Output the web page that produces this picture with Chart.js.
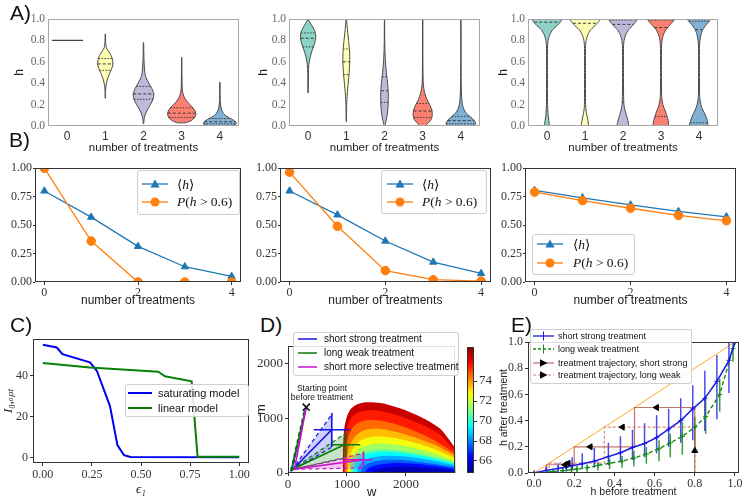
<!DOCTYPE html>
<html><head><meta charset="utf-8">
<script src="https://cdn.jsdelivr.net/npm/chart.js@4.4.1/dist/chart.umd.min.js"></script>
<style>
html,body{margin:0;padding:0;background:#fff}
body{position:relative;width:748px;height:501px;overflow:hidden;font-family:'Liberation Sans',Arial,sans-serif;color:#222}
.pl{position:absolute;font-size:21px;line-height:21px;color:#111}
.leg{position:absolute;background:rgba(255,255,255,0.85);border:1px solid #cfcfcf;border-radius:3px;box-sizing:border-box}
</style></head><body>
<script>
// ================= DATA =================
const treatments = [0, 1, 2, 3, 4];
const A_yTicks = [0, 0.2, 0.4, 0.6, 0.8, 1.0];
const A_yLabels = ['0.0', '0.2', '0.4', '0.6', '0.8', '1.0'];

// A1 violins: h = value levels, w = half-width (in category units), q = [q1, median, q3]
const A1_flat = {x: 0, y: 0.8, from: -0.4, to: 0.42};
const A1_v1_h = [0.26,0.33,0.38,0.43,0.48,0.52,0.56,0.58,0.62,0.66,0.70,0.73,0.78,0.86];
const A1_v1_w = [0.004,0.008,0.02,0.05,0.1,0.15,0.19,0.2,0.19,0.15,0.08,0.03,0.01,0.004];
const A1_v1_q = [0.52,0.58,0.63];
const A1_v2_h = [0.02,0.06,0.1,0.15,0.2,0.25,0.3,0.35,0.4,0.45,0.5,0.6,0.7,0.78];
const A1_v2_w = [0.004,0.015,0.04,0.1,0.18,0.25,0.27,0.22,0.14,0.07,0.035,0.015,0.008,0.004];
const A1_v2_q = [0.25,0.30,0.37];
const A1_v3_h = [0.03,0.05,0.08,0.11,0.14,0.18,0.22,0.26,0.3,0.35,0.45,0.55,0.64];
const A1_v3_w = [0.1,0.25,0.34,0.37,0.35,0.27,0.16,0.08,0.035,0.015,0.008,0.005,0.003];
const A1_v3_q = [0.08,0.12,0.17];
const A1_v4_h = [0.005,0.02,0.04,0.06,0.08,0.1,0.13,0.17,0.22,0.3,0.41];
const A1_v4_w = [0.32,0.43,0.41,0.33,0.23,0.14,0.07,0.03,0.012,0.006,0.003];
const A1_v4_q = [0.02,0.04,0.07];

// A2 violins
const A2_v0_h = [0.31,0.45,0.55,0.6,0.65,0.7,0.75,0.8,0.85,0.9,0.95,0.99];
const A2_v0_w = [0.004,0.008,0.015,0.03,0.06,0.1,0.15,0.19,0.2,0.16,0.08,0.01];
const A2_v0_q = [0.74,0.82,0.87];
const A2_v1_h = [0.04,0.2,0.3,0.4,0.5,0.6,0.7,0.8,0.9,1.0];
const A2_v1_w = [0.003,0.01,0.025,0.05,0.075,0.09,0.085,0.06,0.03,0.005];
const A2_v1_q = [0.48,0.60,0.72];
const A2_v2_h = [0.0,0.05,0.1,0.2,0.3,0.4,0.5,0.6,0.7,0.8,1.0];
const A2_v2_w = [0.01,0.04,0.07,0.095,0.1,0.08,0.05,0.025,0.012,0.006,0.003];
const A2_v2_q = [0.22,0.33,0.46];
const A2_v3_h = [0.0,0.03,0.06,0.1,0.15,0.2,0.25,0.3,0.35,0.4,0.5,0.7,1.0];
const A2_v3_w = [0.06,0.15,0.22,0.25,0.24,0.18,0.11,0.06,0.03,0.015,0.008,0.004,0.003];
const A2_v3_q = [0.08,0.14,0.21];
const A2_v4_h = [0.0,0.02,0.04,0.07,0.1,0.14,0.2,0.3,0.5,1.0];
const A2_v4_w = [0.3,0.39,0.37,0.3,0.2,0.1,0.04,0.015,0.006,0.003];
const A2_v4_q = [0.02,0.05,0.09];

// A3 violins (bimodal)
const A3_v0_h = [0.0,0.05,0.1,0.2,0.5,0.75,0.8,0.85,0.9,0.95,1.0];
const A3_v0_w = [0.06,0.05,0.03,0.015,0.012,0.015,0.03,0.07,0.15,0.3,0.39];
const A3_v0_q = [0.73,0.97,0.995];
const A3_v1_h = [0.0,0.05,0.1,0.15,0.2,0.5,0.75,0.8,0.85,0.9,0.95,1.0];
const A3_v1_w = [0.09,0.08,0.05,0.025,0.015,0.012,0.015,0.03,0.07,0.15,0.3,0.39];
const A3_v1_q = [0.47,0.96,0.995];
const A3_v2_h = [0.0,0.05,0.1,0.15,0.2,0.3,0.5,0.75,0.8,0.85,0.9,0.95,1.0];
const A3_v2_w = [0.15,0.13,0.09,0.05,0.025,0.015,0.012,0.015,0.03,0.07,0.15,0.28,0.37];
const A3_v2_q = [0.22,0.95,0.99];
const A3_v3_h = [0.0,0.05,0.1,0.15,0.2,0.25,0.3,0.5,0.75,0.8,0.85,0.9,0.95,1.0];
const A3_v3_w = [0.2,0.19,0.15,0.1,0.05,0.025,0.015,0.012,0.015,0.03,0.06,0.13,0.25,0.35];
const A3_v3_q = [0.09,0.92,0.99];
const A3_v4_h = [0.0,0.05,0.1,0.15,0.2,0.25,0.3,0.5,0.75,0.8,0.85,0.9,0.95,1.0];
const A3_v4_w = [0.24,0.22,0.17,0.1,0.05,0.025,0.015,0.012,0.013,0.025,0.05,0.1,0.2,0.3];
const A3_v4_q = [0.03,0.90,0.98];

// B) mean h and P(h>0.6) versus number of treatments
const B_xTicks = [0, 2, 4];
const B_yTicks = [0, 0.25, 0.5, 0.75, 1.0];
const B_yLabels = ['0.00', '0.25', '0.50', '0.75', '1.00'];
const B1_mean = [0.80, 0.57, 0.313, 0.134, 0.05];
const B1_p    = [1.0, 0.36, 0.0, 0.0, 0.0];
const B2_mean = [0.80, 0.59, 0.36, 0.175, 0.075];
const B2_p    = [0.965, 0.49, 0.10, 0.02, 0.008];
const B3_mean = [0.805, 0.74, 0.678, 0.62, 0.573];
const B3_p    = [0.79, 0.715, 0.648, 0.585, 0.538];

// C) I_0,opt versus epsilon_1
const C_satEps = [0, 0.071, 0.10, 0.24, 0.275, 0.342, 0.38, 0.413, 0.447, 1.0];
const C_satI   = [55.1, 53.8, 50.5, 46.5, 42.4, 25.1, 6.0, 1.1, 0.2, 0.0];
const C_linEps = [0, 0.24, 0.588, 0.622, 0.758, 0.788, 1.0];
const C_linI   = [46.2, 44.0, 41.9, 39.7, 37.2, 0.3, 0.3];
const C_xTicks = [0, 0.25, 0.5, 0.75, 1.0];
const C_xLabels = ['0.00', '0.25', '0.50', '0.75', '1.00'];
const C_yTicks = [0, 20, 40];

// D) fitness landscape contour levels (outer to inner) in (w, m) space
const D_levels = [77, 76, 75, 74, 73, 72, 71, 70, 69, 68, 67, 66];
const D_contourW = [
  [927,930,940,960,1000,1060,1150,1280,1420,1600,1800,2000,2200,2400,2600,2840],
  [945,948,960,985,1030,1100,1200,1320,1450,1600,1800,2000,2200,2400,2600,2840],
  [965,970,990,1020,1080,1160,1270,1400,1550,1750,2000,2250,2500,2840],
  [990,995,1020,1070,1150,1250,1380,1530,1700,1950,2200,2500,2840],
  [1015,1025,1060,1120,1210,1330,1480,1650,1900,2150,2450,2840],
  [1045,1060,1100,1170,1280,1420,1600,1850,2100,2400,2840],
  [1080,1095,1150,1240,1370,1550,1800,2050,2350,2840],
  [1120,1140,1200,1310,1460,1650,1900,2150,2450,2840],
  [1170,1195,1270,1390,1550,1750,2000,2300,2600,2840],
  [1230,1260,1350,1480,1650,1850,2100,2400,2840],
  [1300,1340,1440,1580,1750,1950,2200,2500,2840],
  [1400,1450,1560,1700,1900,2100,2350,2600,2840]
];
const D_contourM = [
  [0,300,600,850,1030,1160,1240,1285,1290,1270,1210,1140,1050,940,790,455],
  [0,280,540,760,920,1040,1110,1140,1145,1125,1070,1000,915,815,680,400],
  [0,250,470,650,800,900,950,965,955,910,830,720,590,355],
  [0,220,400,560,680,760,800,805,780,720,630,510,310],
  [0,200,350,480,580,640,665,660,620,550,450,265],
  [0,180,310,410,480,525,540,515,465,385,225],
  [0,160,270,350,405,430,420,385,325,185],
  [0,150,260,330,370,385,370,330,270,165],
  [0,125,215,275,305,315,300,255,195,135],
  [0,100,170,215,240,242,220,180,105],
  [0,75,125,160,180,182,165,130,72],
  [0,45,80,100,112,110,95,70,40]
];
const D_startW = [309], D_startM = [1200];
const D_blueMeanW = [309, 60, 742],  D_blueMeanM = [1200, 45, 788];
const D_blueUpW = [60, 758],         D_blueUpM = [45, 1090];
const D_blueLoW = [60, 758],         D_blueLoM = [45, 480];
const D_blueSteepW = [75, 285],      D_blueSteepM = [45, 1120];
const D_greenMeanW = [309, 56, 955], D_greenMeanM = [1200, 60, 515];
const D_greenUpW = [56, 983],        D_greenUpM = [60, 727];
const D_greenLoW = [56, 983],        D_greenLoM = [60, 273];
const D_greenSteepW = [45, 270],     D_greenSteepM = [50, 1120];
const D_magMeanW = [309, 110, 1281], D_magMeanM = [1200, 70, 242];
const D_magUpW = [110, 1292],        D_magUpM = [70, 364];
const D_magLoW = [110, 1292],        D_magLoM = [70, 91];
const D_crossW = [742, 983, 1281],   D_crossM = [788, 515, 242];
const D_crossWlo = [438, 730, 944],  D_crossWhi = [1050, 1225, 1433];
const D_crossMlo = [473, 290, 121],  D_crossMhi = [1090, 727, 394];
const D_ticks = [0, 1000, 2000];
const CB_min = 64.8, CB_max = 77.4;
const CB_ticks = [66, 68, 70, 72, 74];

// E) h after treatment vs h before treatment
const E_ticks = [0, 0.2, 0.4, 0.6, 0.8, 1.0];
const E_labels = ['0.0', '0.2', '0.4', '0.6', '0.8', '1.0'];
const E_blueX    = [0,0.06,0.12,0.16,0.19,0.24,0.30,0.37,0.43,0.49,0.55,0.61,0.67,0.73,0.79,0.85,0.91,0.97,1.0];
const E_blueMean = [0,0.02,0.035,0.045,0.056,0.07,0.09,0.125,0.155,0.195,0.225,0.27,0.335,0.40,0.49,0.57,0.70,0.86,1.0];
const E_blueLo   = [null,0.0,0.005,0.01,0.02,0.03,0.04,0.06,0.08,0.10,0.12,0.15,0.20,0.23,0.25,0.32,0.41,0.61,null];
const E_blueHi   = [null,0.05,0.075,0.09,0.12,0.15,0.19,0.23,0.28,0.33,0.38,0.44,0.49,0.57,0.67,0.78,0.90,1.0,null];
const E_greenX    = [0,0.095,0.144,0.186,0.214,0.264,0.318,0.376,0.438,0.497,0.559,0.622,0.678,0.738,0.80,0.854,0.924,0.99,1.0];
const E_greenMean = [0,0.012,0.018,0.025,0.03,0.04,0.058,0.075,0.09,0.115,0.145,0.185,0.23,0.28,0.35,0.43,0.60,0.95,1.0];
const E_greenLo   = [null,0.0,0.0,0.0,0.005,0.01,0.02,0.03,0.04,0.05,0.07,0.09,0.12,0.14,0.19,0.30,0.47,0.85,null];
const E_greenHi   = [null,0.03,0.04,0.05,0.055,0.065,0.085,0.11,0.13,0.17,0.20,0.25,0.30,0.39,0.43,0.58,0.72,1.0,null];
const E_diagX = [0, 1], E_diagY = [0, 1];
const E_strongX = [0.8,0.8,0.5,0.5,0.2,0.2,0.063,0.063];
const E_strongY = [0,0.5,0.5,0.2,0.2,0.063,0.063,0.015];
const E_weakX = [0.8,0.8,0.35,0.35,0.075,0.075];
const E_weakY = [0,0.35,0.35,0.075,0.075,0.012];
const E_arrStrongX = [0.8,0.61,0.28,0.155], E_arrStrongY = [0.17,0.5,0.2,0.063], E_arrStrongRot = [0,-90,-90,-90];
const E_arrWeakX = [0.44,0.17], E_arrWeakY = [0.35,0.075], E_arrWeakRot = [-90,-90];

// ================= STYLE / HELPERS =================
const SERIF = "'Liberation Serif','Times New Roman',serif";
const SANS = "'Liberation Sans',Arial,sans-serif";
const SET3 = ['#8dd3c7', '#ffffb3', '#bebada', '#fb8072', '#80b1d3'];
Chart.defaults.font.family = SANS;
Chart.defaults.animation = false;
Chart.defaults.plugins.legend.display = false;
Chart.defaults.plugins.tooltip.enabled = false;
Chart.defaults.elements.point.radius = 0;
Chart.defaults.elements.line.borderWidth = 1.5;
Chart.defaults.elements.line.tension = 0;

Chart.register({
  id: 'frame',
  afterDatasetsDraw(chart, args, opts) {
    if (!opts || !opts.color) return;
    const {ctx, chartArea: a} = chart;
    ctx.save();
    ctx.strokeStyle = opts.color; ctx.lineWidth = 1;
    ctx.strokeRect(Math.round(a.left) + 0.5, Math.round(a.top) + 0.5,
                   Math.round(a.right - a.left) - 1, Math.round(a.bottom - a.top) - 1);
    ctx.restore();
  }
});

const pts = (xs, ys) => xs.map((x, i) => ({x, y: ys[i]}));
function interp(hs, ws, y) {
  if (y <= hs[0]) return ws[0];
  for (let i = 1; i < hs.length; i++) if (y <= hs[i]) {
    const t = (y - hs[i-1]) / (hs[i] - hs[i-1]); return ws[i-1] + t * (ws[i] - ws[i-1]);
  }
  return ws[ws.length - 1];
}
function jet(t) {
  const cl = v => Math.max(0, Math.min(1, v));
  const r = cl(1.5 - Math.abs(4*t - 3)), g = cl(1.5 - Math.abs(4*t - 2)), b = cl(1.5 - Math.abs(4*t - 1));
  return `rgb(${Math.round(r*255)},${Math.round(g*255)},${Math.round(b*255)})`;
}
function lin(min, max, ticks, labels, o) {
  o = o || {};
  const sc = {
    type: 'linear', min, max,
    afterBuildTicks: s => { s.ticks = ticks.map(v => ({value: v})); },
    ticks: {autoSkip: false, maxRotation: 0, minRotation: 0, padding: o.pad ?? 2, color: o.color || '#333',
            font: o.font || {family: SERIF, size: 12}, callback: (v, i) => labels[i]},
    grid: {display: !!o.tl, drawOnChartArea: false, drawTicks: !!o.tl, tickLength: o.tl || 0, color: '#333', lineWidth: 1},
    border: {display: false},
    title: {display: false}
  };
  if (o.pos) sc.position = o.pos;
  if (o.title) sc.title = {display: true, text: o.title, color: o.titleColor || '#222', font: o.titleFont, at: o.titleAt, padding: 0};
  return sc;
}
function mk(rect, plot, cfg, yRight) {
  const [cx, cy, cw, ch] = rect, [L, T, R, B] = plot;
  const cv = document.createElement('canvas');
  cv.width = cw; cv.height = ch;
  cv.style.cssText = `position:absolute;left:${cx}px;top:${cy}px;width:${cw}px;height:${ch}px;`;
  document.body.appendChild(cv);
  const o = cfg.options;
  o.responsive = false; o.animation = false; o.devicePixelRatio = 1;
  const sx = o.scales.x, sy = o.scales.y;
  if (!yRight) {
    o.layout = {padding: {left: 0, top: T - cy, right: cx + cw - R, bottom: 0}};
    sx.afterFit = s => { s.height = cy + ch - B; };
    sy.afterFit = s => { s.width = L - cx; };
  } else {
    o.layout = {padding: {left: L - cx, top: T - cy, right: 0, bottom: cy + ch - B}};
    sy.afterFit = s => { s.width = cx + cw - R; };
  }
  if (sx.title && sx.title.display) {
    const lh = sx.title.font.size * 1.2;
    sx.title.padding = {top: 0, bottom: Math.max(0, cy + ch - sx.title.at - lh / 2)};
  }
  if (sy.title && sy.title.display) {
    const lh = sy.title.font.size * 1.2;
    sy.title.padding = {top: Math.max(0, sy.title.at - cx - lh / 2), bottom: 0};
  }
  return new Chart(cv, cfg);
}
function segs(list) { // list of [x0,y0,x1,y1] -> points with gaps
  const out = [];
  list.forEach(s => { out.push({x: s[0], y: s[1]}, {x: s[2], y: s[3]}, {x: s[2], y: null}); });
  return out;
}

// ================= A) violins =================
function violinSets(list) {
  const ds = [], q = [], m = [];
  list.forEach(v => {
    const p = [];
    v.h.forEach((h, i) => p.push({x: v.x + v.w[i], y: h}));
    for (let i = v.h.length - 1; i >= 0; i--) p.push({x: v.x - v.w[i], y: v.h[i]});
    p.push({x: p[0].x, y: p[0].y});
    ds.push({data: p, fill: 'shape', backgroundColor: SET3[v.x], borderColor: '#4a4a4a', borderWidth: 1, tension: 0.25, order: 5});
    const hw = y => interp(v.h, v.w, y);
    [v.q[0], v.q[2]].forEach(y => q.push([v.x - hw(y), y, v.x + hw(y), y]));
    m.push([v.x - hw(v.q[1]), v.q[1], v.x + hw(v.q[1]), v.q[1]]);
  });
  ds.push({data: segs(q), borderColor: '#3a3a3a', borderWidth: 1, borderDash: [1.5, 1.5], order: 1});
  ds.push({data: segs(m), borderColor: '#3a3a3a', borderWidth: 1, borderDash: [3, 2], order: 1});
  return ds;
}
function aChart(rect, plot, datasets, yTitleX) {
  return mk(rect, plot, {type: 'line', data: {datasets}, options: {
    plugins: {frame: {color: '#a8a8a8'}},
    scales: {
      x: lin(-0.5, 4.5, treatments, treatments.map(String), {font: {family: SANS, size: 12}, color: '#333', pad: 3,
           title: 'number of treatments', titleFont: {family: SANS, size: 11.5}, titleAt: 147.5}),
      y: lin(0, 1, A_yTicks, A_yLabels, {font: {family: SERIF, size: 11.5}, color: '#666', pad: 3,
           title: 'h', titleFont: {family: SANS, size: 12}, titleAt: yTitleX})
    }}});
}
const A1sets = violinSets([
  {x: 1, h: A1_v1_h, w: A1_v1_w, q: A1_v1_q}, {x: 2, h: A1_v2_h, w: A1_v2_w, q: A1_v2_q},
  {x: 3, h: A1_v3_h, w: A1_v3_w, q: A1_v3_q}, {x: 4, h: A1_v4_h, w: A1_v4_w, q: A1_v4_q}]);
A1sets.push({data: [{x: A1_flat.from, y: A1_flat.y}, {x: A1_flat.to, y: A1_flat.y}], borderColor: '#444', borderWidth: 1.2, order: 1});
aChart([8, 8, 240, 152], [48, 19, 239, 126], A1sets, 20);
aChart([250, 8, 240, 152], [289, 19, 480, 126], violinSets([
  {x: 0, h: A2_v0_h, w: A2_v0_w, q: A2_v0_q}, {x: 1, h: A2_v1_h, w: A2_v1_w, q: A2_v1_q},
  {x: 2, h: A2_v2_h, w: A2_v2_w, q: A2_v2_q}, {x: 3, h: A2_v3_h, w: A2_v3_w, q: A2_v3_q},
  {x: 4, h: A2_v4_h, w: A2_v4_w, q: A2_v4_q}]), 264);
aChart([496, 8, 252, 152], [528, 19, 718, 126], violinSets([
  {x: 0, h: A3_v0_h, w: A3_v0_w, q: A3_v0_q}, {x: 1, h: A3_v1_h, w: A3_v1_w, q: A3_v1_q},
  {x: 2, h: A3_v2_h, w: A3_v2_w, q: A3_v2_q}, {x: 3, h: A3_v3_h, w: A3_v3_w, q: A3_v3_q},
  {x: 4, h: A3_v4_h, w: A3_v4_w, q: A3_v4_q}]), 502);

// ================= B) =================
function bChart(rect, plot, mean, p) {
  return mk(rect, plot, {type: 'line', data: {datasets: [
    {data: pts(treatments, mean), borderColor: '#1f77b4', backgroundColor: '#1f77b4', borderWidth: 1.3,
     pointStyle: 'triangle', pointRadius: 4.2, pointBorderWidth: 1, order: 2},
    {data: pts(treatments, p), borderColor: '#ff7f0e', backgroundColor: '#ff7f0e', borderWidth: 1.3,
     pointStyle: 'circle', pointRadius: 4.3, pointBorderWidth: 1, order: 1}
  ]}, options: {
    plugins: {frame: {color: '#333'}},
    scales: {
      x: lin(-0.2, 4.2, B_xTicks, ['0', '2', '4'], {tl: 3, pad: 1, color: '#333',
           title: 'number of treatments', titleFont: {family: SANS, size: 12}, titleAt: 301}),
      y: lin(0, 1, B_yTicks, B_yLabels, {tl: 2, pad: 1, color: '#333'})
    }}});
}
bChart([0, 160, 248, 152], [35, 168, 241, 282], B1_mean, B1_p);
bChart([248, 160, 248, 152], [280, 168, 491, 282], B2_mean, B2_p);
bChart([496, 160, 252, 152], [525, 168, 736, 282], B3_mean, B3_p);

// ================= C) =================
mk([0, 330, 252, 171], [33, 339, 249, 463], {type: 'line', data: {datasets: [
  {data: pts(C_satEps, C_satI), borderColor: '#0000ee', borderWidth: 2, order: 2},
  {data: pts(C_linEps, C_linI), borderColor: '#0a800a', borderWidth: 2, order: 1}
]}, options: {
  plugins: {frame: {color: '#333'}},
  scales: {
    x: lin(-0.05, 1.05, C_xTicks, C_xLabels, {tl: 3, pad: 2, title: 'ϵ₁', titleFont: {family: SERIF, size: 13, style: 'italic'}, titleAt: 490}),
    y: lin(-2.76, 57.86, C_yTicks, ['0', '20', '40'], {tl: 3, pad: 2, title: 'I₀,ₒₚₜ', titleFont: {family: SERIF, size: 13, style: 'italic'}, titleAt: 9})
  }}});

// ================= D) =================
const Dsets = [];
D_levels.forEach((lev, i) => {
  Dsets.push({data: pts(D_contourW[i], D_contourM[i]), fill: 'origin', borderWidth: 0, borderColor: 'rgba(0,0,0,0)',
    backgroundColor: jet((lev - 0.5 - CB_min) / (CB_max - CB_min)), tension: 0.2, order: 1000 - i});
});
const poly = (w1, m1, w2, m2) => [{x: w1[0], y: m1[0]}, {x: w1[1], y: m1[1]}, {x: w2[1], y: m2[1]}, {x: w1[0], y: m1[0]}];
Dsets.push(
  {data: poly(D_blueUpW, D_blueUpM, D_blueLoW, D_blueLoM), fill: 'shape', backgroundColor: 'rgba(40,40,255,0.22)', borderWidth: 0, order: 50},
  {data: poly(D_greenUpW, D_greenUpM, D_greenLoW, D_greenLoM), fill: 'shape', backgroundColor: 'rgba(0,128,0,0.22)', borderWidth: 0, order: 50},
  {data: poly(D_magUpW, D_magUpM, D_magLoW, D_magLoM), fill: 'shape', backgroundColor: 'rgba(200,0,200,0.22)', borderWidth: 0, order: 50},
  {data: pts(D_blueUpW, D_blueUpM), borderColor: '#1515e0', borderWidth: 1.2, borderDash: [4, 3], order: 20},
  {data: pts(D_blueLoW, D_blueLoM), borderColor: '#1515e0', borderWidth: 1.2, borderDash: [4, 3], order: 20},
  {data: pts(D_blueSteepW, D_blueSteepM), borderColor: '#1515e0', borderWidth: 1.2, borderDash: [4, 3], order: 20},
  {data: pts(D_greenUpW, D_greenUpM), borderColor: '#0a7a0a', borderWidth: 1.2, borderDash: [4, 3], order: 20},
  {data: pts(D_greenLoW, D_greenLoM), borderColor: '#0a7a0a', borderWidth: 1.2, borderDash: [4, 3], order: 20},
  {data: pts(D_greenSteepW, D_greenSteepM), borderColor: '#0a7a0a', borderWidth: 1.2, borderDash: [4, 3], order: 20},
  {data: pts(D_magUpW, D_magUpM), borderColor: '#cc10cc', borderWidth: 1.2, borderDash: [4, 3], order: 20},
  {data: pts(D_magLoW, D_magLoM), borderColor: '#cc10cc', borderWidth: 1.2, borderDash: [4, 3], order: 20},
  {data: pts(D_blueMeanW, D_blueMeanM), borderColor: '#1515e0', borderWidth: 1.6, order: 10},
  {data: pts(D_greenMeanW, D_greenMeanM), borderColor: '#0a7a0a', borderWidth: 1.6, order: 9},
  {data: pts(D_magMeanW, D_magMeanM), borderColor: '#cc10cc', borderWidth: 1.6, order: 8}
);
const crossColors = ['#1515e0', '#0a7a0a', '#cc10cc'];
D_crossW.forEach((w, i) => {
  Dsets.push({data: segs([[D_crossWlo[i], D_crossM[i], D_crossWhi[i], D_crossM[i]], [w, D_crossMlo[i], w, D_crossMhi[i]]]),
    borderColor: crossColors[i], borderWidth: 1.6, order: 5});
});
Dsets.push({data: pts(D_startW, D_startM), showLine: false, pointStyle: 'crossRot', pointRadius: 5,
  pointBorderColor: '#111', pointBorderWidth: 1.6, order: 0});
mk([252, 336, 210, 165], [288, 346, 457, 473], {type: 'line', data: {datasets: Dsets}, options: {
  plugins: {frame: {color: '#333'}},
  scales: {
    x: lin(0, 2840, D_ticks, ['0', '1000', '2000'], {tl: 3, pad: 1, font: {family: SERIF, size: 13},
         title: 'w', titleFont: {family: SANS, size: 13}, titleAt: 492}),
    y: lin(0, 2315, D_ticks, ['0', '1000', '2000'], {tl: 3, pad: 2, font: {family: SERIF, size: 13},
         title: 'm', titleFont: {family: SANS, size: 13}, titleAt: 261})
  }}});

// colorbar
mk([462, 336, 40, 150], [467, 347, 474, 473], {type: 'bar', data: {labels: [''], datasets: [{
  data: [[CB_min, CB_max]], borderWidth: 0, barPercentage: 1, categoryPercentage: 1,
  backgroundColor: c => {
    const ch = c.chart; if (!ch.chartArea) return '#888';
    const ys = ch.scales.y;
    const g = ch.ctx.createLinearGradient(0, ys.getPixelForValue(CB_min), 0, ys.getPixelForValue(CB_max));
    for (let k = 0; k <= 16; k++) g.addColorStop(k / 16, jet(k / 16));
    return g;
  }}]}, options: {
  plugins: {frame: {color: '#333'}},
  scales: {
    x: {type: 'category', display: false},
    y: lin(CB_min, CB_max, CB_ticks, CB_ticks.map(String), {pos: 'right', tl: 3, pad: 2, font: {family: SERIF, size: 13}})
  }}}, true);

// ================= E) =================
const ebSegs = (xs, lo, hi) => segs(xs.map((x, i) => lo[i] == null ? null : [x, lo[i], x, hi[i]]).filter(s => s));
mk([496, 330, 252, 171], [528, 342, 739, 473], {type: 'line', data: {datasets: [
  {data: pts(E_diagX, E_diagY), borderColor: '#ffa726', borderWidth: 1, order: 30},
  {data: ebSegs(E_greenX, E_greenLo, E_greenHi), borderColor: 'rgba(20,140,20,0.85)', borderWidth: 1.5, order: 25},
  {data: ebSegs(E_blueX, E_blueLo, E_blueHi), borderColor: 'rgba(30,30,235,0.8)', borderWidth: 1.5, order: 24},
  {data: pts(E_strongX, E_strongY), borderColor: 'rgba(170,70,60,0.75)', borderWidth: 1.2, order: 20},
  {data: pts(E_weakX, E_weakY), borderColor: 'rgba(205,100,90,0.75)', borderWidth: 1.2, borderDash: [3, 2], order: 19},
  {data: pts(E_greenX, E_greenMean), borderColor: '#138a13', borderWidth: 1.4, borderDash: [4, 2.5],
   pointStyle: 'cross', pointRadius: 2.5, pointBorderColor: '#138a13', pointBorderWidth: 1, order: 12},
  {data: pts(E_blueX, E_blueMean), borderColor: '#1a1ae6', borderWidth: 1.5,
   pointStyle: 'cross', pointRadius: 2.5, pointBorderColor: '#1a1ae6', pointBorderWidth: 1, order: 11},
  {data: pts(E_arrStrongX, E_arrStrongY), showLine: false, pointStyle: 'triangle', pointRadius: 3.5,
   pointRotation: E_arrStrongRot, pointBackgroundColor: '#000', pointBorderColor: '#000', order: 1},
  {data: pts(E_arrWeakX, E_arrWeakY), showLine: false, pointStyle: 'triangle', pointRadius: 3.5,
   pointRotation: E_arrWeakRot, pointBackgroundColor: '#000', pointBorderColor: '#000', order: 1}
]}, options: {
  plugins: {frame: {color: '#333'}},
  scales: {
    x: lin(-0.03, 1.02, E_ticks, E_labels, {tl: 3, pad: 1, title: 'h before treatment', titleFont: {family: SANS, size: 10.5}, titleAt: 492}),
    y: lin(0, 1, E_ticks, E_labels, {tl: 3, pad: 2, title: 'h after treatment', titleFont: {family: SANS, size: 10.5}, titleAt: 504})
  }}});

// ================= HTML labels & legends =================
function label(txt, x, y) {
  const d = document.createElement('div'); d.className = 'pl';
  d.style.left = x + 'px'; d.style.top = y + 'px'; d.textContent = txt;
  document.body.appendChild(d);
}
label('A)', 10, 2); label('B)', 9, 129); label('C)', 10, 314); label('D)', 260, 314); label('E)', 511, 314);

function legend(x, y, w, h, fontCss, items) {
  const d = document.createElement('div'); d.className = 'leg';
  d.style.left = x + 'px'; d.style.top = y + 'px'; d.style.width = w + 'px'; d.style.height = h + 'px';
  items.forEach(it => {
    const s = document.createElement('div');
    s.style.cssText = `position:absolute;left:${it.sx}px;top:${it.y - 6}px;width:${it.sw}px;height:12px;`;
    s.innerHTML = `<svg width="${it.sw}" height="12" viewBox="0 0 ${it.sw} 12" style="display:block;overflow:visible">${it.svg}</svg>`;
    d.appendChild(s);
    const t = document.createElement('div');
    t.style.cssText = `position:absolute;left:${it.tx}px;top:${it.y - 10}px;height:20px;line-height:20px;white-space:nowrap;color:#111;${fontCss}`;
    t.innerHTML = it.text;
    d.appendChild(t);
  });
  document.body.appendChild(d);
}
const ln = (w, c, dash, sw) => `<line x1="0" y1="6" x2="${w}" y2="6" stroke="${c}" stroke-width="${sw || 1.5}"${dash ? ` stroke-dasharray="${dash}"` : ''}/>`;
const tri = (c) => `<polygon points="${c},1.5 ${c + 4.6},9.6 ${c - 4.6},9.6" fill="#1f77b4"/>`;
const circ = (c) => `<circle cx="${c}" cy="6" r="4.5" fill="#ff7f0e"/>`;
const plus = (c, col) => `<line x1="${c}" y1="1.5" x2="${c}" y2="10.5" stroke="${col}" stroke-width="1"/>`;
const arr = (c) => `<polygon points="${c + 4},6 ${c - 3.5},2.2 ${c - 3.5},9.8" fill="#000"/>`;
const hLab = `<span style="font-family:'DejaVu Serif',serif">⟨</span><i>h</i><span style="font-family:'DejaVu Serif',serif">⟩</span>`;
const pLab = `<i>P</i>(<i>h</i> &gt; 0.6)`;
const BF = `font-family:${SERIF};font-size:13.5px;`;
const bItems = (sx, tx, y1, y2) => [
  {sx, sw: 26, y: y1, svg: ln(26, '#1f77b4', '', 1.3) + tri(13), tx, text: hLab},
  {sx, sw: 26, y: y2, svg: ln(26, '#ff7f0e', '', 1.3) + circ(13), tx, text: pLab}];
legend(137, 170, 103, 45, BF, bItems(4, 39, 13, 31));
legend(381, 170, 106, 44, BF, bItems(5, 40, 13, 31));
legend(532, 234, 103, 41, BF, bItems(4, 40, 9, 28));

legend(125, 384, 124, 33, `font-family:${SANS};font-size:11px;`, [
  {sx: 2, sw: 24, y: 8, svg: ln(24, '#0000ee', '', 2), tx: 32, text: 'saturating model'},
  {sx: 2, sw: 24, y: 23, svg: ln(24, '#0a800a', '', 2), tx: 32, text: 'linear model'}]);

legend(293, 332, 166, 44, `font-family:${SANS};font-size:10px;`, [
  {sx: 4, sw: 19, y: 6, svg: ln(19, '#1515e0', '', 1.5), tx: 30, text: 'short strong treatment'},
  {sx: 4, sw: 19, y: 20, svg: ln(19, '#0a7a0a', '', 1.5), tx: 30, text: 'long weak treatment'},
  {sx: 4, sw: 19, y: 34, svg: ln(19, '#cc10cc', '', 1.5), tx: 30, text: 'short more selective treatment'}]);

legend(530, 329, 162, 55, `font-family:${SANS};font-size:9px;`, [
  {sx: 2, sw: 21, y: 6, svg: ln(21, '#1a1ae6', '', 1.3) + plus(10.5, '#1a1ae6'), tx: 27, text: 'short strong treatment'},
  {sx: 2, sw: 21, y: 19, svg: ln(21, '#138a13', '3,2', 1.3) + plus(10.5, '#138a13'), tx: 27, text: 'long weak treatment'},
  {sx: 2, sw: 21, y: 33, svg: ln(21, 'rgba(170,70,60,0.8)', '', 1.2) + arr(10.5), tx: 27, text: 'treatment trajectory, short strong'},
  {sx: 2, sw: 21, y: 45, svg: ln(21, 'rgba(205,100,90,0.8)', '3,2', 1.2) + arr(10.5), tx: 27, text: 'treatment trajectory, long weak'}]);

const st = document.createElement('div');
st.style.cssText = `position:absolute;left:282px;top:384px;width:80px;text-align:center;font-family:${SANS};font-size:8.5px;line-height:9px;color:#111;`;
st.innerHTML = 'Starting point<br>before treatment';
document.body.appendChild(st);
</script>
</body></html>
